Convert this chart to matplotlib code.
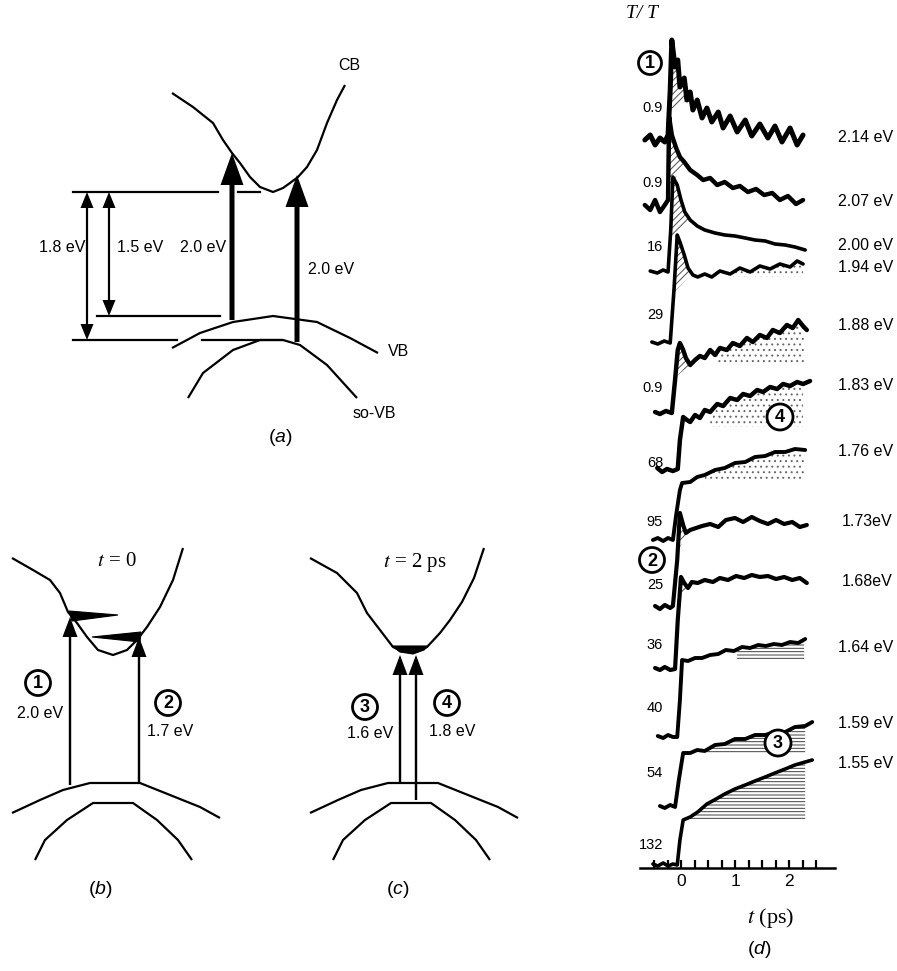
import numpy as np
import matplotlib
matplotlib.use("Agg")
import matplotlib.pyplot as plt
from matplotlib.patches import Circle, FancyArrow, Polygon

plt.rcParams['font.family'] = ['Liberation Sans', 'DejaVu Sans']
plt.rcParams['mathtext.fontset'] = 'custom'
plt.rcParams['mathtext.it'] = 'Liberation Sans:italic'
plt.rcParams['mathtext.rm'] = 'Liberation Sans'
plt.rcParams['hatch.linewidth'] = 0.7

W, H = 897, 971

# ---------------- panel (d): pump-probe traces ----------------
# t in ps, signal in a.u. above each trace's own baseline
energies = ['2.14 eV', '2.07 eV', '2.00 eV', '1.94 eV', '1.88 eV', '1.83 eV',
            '1.76 eV', '1.73eV', '1.68eV', '1.64 eV', '1.59 eV', '1.55 eV']
scales = ['0.9', '0.9', '16', '29', '0.9', '68', '95', '25', '36', '40', '54', '132']
offsets = [72.8, 66.1, 59.6, 52.5, 45.5, 39.8, 32.8, 26.1, 19.9, 13.1, 6.1, 0.3]

t1 = [-0.67, -0.57, -0.48, -0.39, -0.30, -0.24, -0.20, -0.17, -0.11, -0.06, -0.02, 0.06, 0.11,
      0.17, 0.22, 0.30, 0.39, 0.48, 0.57, 0.69, 0.78, 0.91, 1.04, 1.19, 1.31, 1.46, 1.61, 1.74,
      1.87, 2.02, 2.15, 2.26]
s1 = [0, 0.5, -0.5, 0.2, -0.2, 0.5, 5.0, 10.0, 7.3, 8.0, 5.3, 6.2, 4.0, 4.8, 3.0, 4.0, 2.2, 3.2,
      1.8, 2.8, 1.2, 2.4, 0.8, 2.0, 0.4, 1.6, 0.2, 1.4, -0.2, 1.2, -0.5, 0.5]

t2 = [-0.67, -0.57, -0.48, -0.39, -0.30, -0.24, -0.22, -0.17, -0.09, -0.02, 0.06, 0.17, 0.30,
      0.41, 0.54, 0.67, 0.81, 0.96, 1.09, 1.24, 1.39, 1.54, 1.69, 1.83, 1.98, 2.13, 2.26]
s2 = [0.2, -0.3, 0.7, -0.5, 0.2, 0.7, 9.0, 7.2, 5.9, 5.0, 4.5, 3.7, 3.2, 2.7, 2.9, 2.2, 2.5, 1.9,
      2.1, 1.5, 1.8, 1.2, 1.4, 0.7, 1.1, 0.3, 0.7]

t3 = [-0.57, -0.44, -0.33, -0.24, -0.19, -0.15, -0.07, 0.0, 0.07, 0.17, 0.30, 0.44, 0.63, 0.81,
      1.0, 1.19, 1.37, 1.56, 1.74, 1.93, 2.11, 2.30]
s3 = [0.1, -0.1, 0.2, 0, 4.2, 9.5, 8.7, 7.2, 6.0, 5.2, 4.6, 4.2, 3.9, 3.7, 3.6, 3.4, 3.2, 3.1,
      2.8, 2.7, 2.5, 2.2]

t4 = [-0.54, -0.43, -0.31, -0.20, -0.13, -0.07, -0.02, 0.06, 0.13, 0.22, 0.31, 0.44, 0.57, 0.72,
      0.91, 1.09, 1.28, 1.46, 1.65, 1.83, 2.02, 2.15, 2.26]
s4 = [0.1, -0.1, 0.2, 0, 5.3, 10.8, 10.1, 8.8, 7.5, 6.8, 6.6, 6.9, 6.6, 7.2, 6.9, 7.5, 7.1, 7.7,
      7.4, 7.9, 7.6, 8.2, 7.9]

t5 = [-0.48, -0.39, -0.28, -0.17, -0.11, -0.06, -0.02, 0.04, 0.09, 0.17, 0.26, 0.35, 0.44, 0.54,
      0.63, 0.72, 0.85, 0.96, 1.09, 1.22, 1.33, 1.46, 1.59, 1.70, 1.83, 1.96, 2.07, 2.17, 2.26, 2.33]
s5 = [0.1, -0.1, 0.2, 0, 3.3, 6.3, 7.0, 6.3, 5.5, 4.8, 5.3, 5.7, 5.5, 6.3, 5.8, 6.5, 6.3, 7.0,
      6.7, 7.5, 7.1, 7.8, 7.5, 8.3, 8.0, 8.8, 8.5, 9.3, 8.7, 8.3]

t6 = [-0.44, -0.35, -0.26, -0.15, -0.06, -0.02, 0.04, 0.11, 0.17, 0.26, 0.35, 0.44, 0.54, 0.67,
      0.78, 0.91, 1.04, 1.15, 1.28, 1.41, 1.52, 1.65, 1.78, 1.89, 2.02, 2.15, 2.26, 2.39]
s6 = [0.2, -0.2, 0.1, -0.1, 0.1, 3.0, 5.3, 5.0, 4.8, 5.5, 5.2, 6.0, 5.8, 6.6, 6.4, 7.2, 7.0, 7.6,
      7.4, 8.0, 7.8, 8.3, 8.1, 8.6, 8.4, 8.8, 8.6, 8.9]

t7 = [-0.52, -0.43, -0.33, -0.24, -0.15, -0.09, -0.02, 0.02, 0.17, 0.30, 0.44, 0.63, 0.81, 1.0,
      1.19, 1.37, 1.56, 1.74, 1.93, 2.11, 2.30]
s7 = [0, 0.2, -0.1, 0.2, 0, 2.5, 5.0, 5.7, 5.8, 6.3, 6.5, 7.0, 7.2, 7.7, 7.8, 8.3, 8.4, 8.8, 8.8,
      9.1, 9.0]

t8 = [-0.48, -0.39, -0.30, -0.20, -0.15, -0.07, -0.02, 0.04, 0.09, 0.17, 0.28, 0.39, 0.54, 0.69,
      0.83, 1.0, 1.15, 1.31, 1.46, 1.61, 1.76, 1.91, 2.06, 2.20, 2.33]
s8 = [0.1, -0.2, 0.2, -0.1, 0.1, 4.7, 9.4, 8.2, 7.4, 7.7, 7.9, 8.1, 8.3, 8.0, 8.7, 8.9, 8.5, 9.0,
      8.6, 8.3, 8.7, 8.3, 8.5, 8.0, 8.2]

t9 = [-0.48, -0.39, -0.30, -0.20, -0.11, -0.06, 0.0, 0.06, 0.13, 0.20, 0.31, 0.44, 0.59, 0.72,
      0.87, 1.02, 1.17, 1.31, 1.46, 1.61, 1.76, 1.91, 2.06, 2.20, 2.33]
s9 = [0.1, -0.1, 0.2, -0.1, 0, 4.9, 9.2, 8.6, 8.1, 8.7, 8.6, 8.9, 8.7, 9.1, 8.9, 9.3, 9.1, 9.4,
      9.2, 9.3, 9.0, 9.2, 8.9, 9.1, 8.6]

t10 = [-0.43, -0.33, -0.24, -0.15, -0.07, -0.02, 0.02, 0.13, 0.26, 0.39, 0.54, 0.69, 0.83, 0.98,
       1.13, 1.28, 1.43, 1.57, 1.72, 1.87, 2.02, 2.17, 2.30]
s10 = [0.1, -0.1, 0.2, 0, 0, 3.7, 7.7, 7.6, 7.9, 7.9, 8.2, 8.3, 8.7, 8.6, 9.0, 8.9, 9.2, 9.1, 9.3,
       9.2, 9.5, 9.4, 9.8]

t11 = [-0.39, -0.30, -0.20, -0.11, -0.04, 0.04, 0.17, 0.30, 0.44, 0.63, 0.81, 1.0, 1.19, 1.37,
       1.56, 1.74, 1.93, 2.11, 2.30, 2.43]
s11 = [0.1, -0.1, 0.2, 0, 2.7, 5.4, 5.4, 5.7, 5.6, 6.2, 6.3, 6.8, 6.8, 7.2, 7.2, 7.5, 7.5, 8.0,
       8.1, 8.5]

t12 = [-0.52, -0.43, -0.33, -0.24, -0.15, -0.07, -0.02, 0.04, 0.17, 0.31, 0.48, 0.65, 0.81, 1.0,
       1.19, 1.37, 1.56, 1.74, 1.93, 2.11, 2.30, 2.43]
s12 = [0.1, -0.1, 0.2, -0.1, 0.1, 0, 2.5, 4.5, 4.8, 5.3, 6.1, 6.6, 7.1, 7.6, 8.0, 8.4, 8.8, 9.2,
       9.6, 10.0, 10.3, 10.5]

times = [t1, t2, t3, t4, t5, t6, t7, t8, t9, t10, t11, t12]
signals = [s1, s2, s3, s4, s5, s6, s7, s8, s9, s10, s11, s12]
# trace thickness follows how noisy each trace looks
widths = [3.6, 3.2, 2.6, 2.6, 3.2, 3.2, 2.8, 3.0, 3.0, 2.8, 2.8, 2.6]

# hot-carrier peak (hatched): trace index -> (t start, t end)
peak_hatch = {0: (-0.22, 0.11), 1: (-0.238, 0.06), 2: (-0.20, 0.17), 3: (-0.134, 0.20),
              4: (-0.105, 0.17), 7: (-0.06, 0.17), 8: (-0.028, 0.17)}
# slow build-up (dotted / lined): trace index -> (t start, t end, level)
dot_fill = {3: (0.91, 2.26, 6.6), 4: (0.67, 2.28, 5.0), 5: (0.54, 2.26, 4.3), 6: (0.44, 2.28, 5.8)}
line_fill = {9: (1.04, 2.28, 7.7), 10: (0.48, 2.30, 5.4), 11: (0.17, 2.30, 4.5)}

# ---------------- panels (a)-(c): band sketches (drawing units = pixels) ----------------
cb_a_x = [172, 193, 203, 213, 223, 232, 240, 250, 260, 273, 283, 290, 298, 307, 317, 327, 337, 345]
cb_a_y = [93, 107, 115, 123, 140, 153, 163, 177, 187, 192, 188, 183, 177, 167, 150, 123, 100, 85]
vb_a_x = [172, 200, 233, 273, 317, 350, 378]
vb_a_y = [348, 333, 322, 316, 322, 338, 353]
so_a_x = [188, 203, 233, 260, 283, 300, 327, 357]
so_a_y = [398, 373, 350, 340, 340, 345, 365, 398]

cb_b_x = [12, 33, 50, 60, 68, 77, 87, 98, 113, 127, 137, 147, 160, 173, 183]
cb_b_y = [558, 570, 580, 593, 612, 623, 637, 650, 655, 650, 640, 627, 607, 580, 548]
cb_c_x = [310, 337, 357, 367, 380, 393, 400, 413, 427, 440, 450, 462, 474, 484]
cb_c_y = [558, 573, 593, 613, 630, 647, 650, 653, 647, 633, 620, 602, 578, 548]
vb_b_x = [12, 40, 63, 90, 140, 170, 200, 220]
vb_c_x = [310, 338, 361, 388, 438, 468, 498, 518]
vb_y = [813, 800, 790, 783, 783, 795, 807, 818]
so_b_x = [35, 45, 67, 93, 133, 157, 178, 192]
so_c_x = [333, 343, 365, 391, 431, 455, 476, 490]
so_y = [860, 840, 820, 803, 803, 820, 840, 860]

fig = plt.figure(figsize=(W / 100, H / 100), dpi=100)

# panel (d) axes: x in ps, y in a.u.
def px_t(x):
    return (x - 681) / 54.0

ax = fig.add_axes([640 / W, (H - 868) / H, 195 / W, (868 - 30) / H])
ax.set_xlim(px_t(640), px_t(835))
ax.set_ylim(0, 83.8)
for sp in ['left', 'right', 'top']:
    ax.spines[sp].set_visible(False)
ax.spines['bottom'].set_linewidth(1.8)
ax.set_yticks([])
ax.set_xticks([0, 1, 2])
ax.set_xticks(np.arange(-0.5, 2.51, 0.25), minor=True)
ax.tick_params(axis='x', which='both', direction='in', length=6, width=1.6, pad=4,
               labelsize=12.5)

for i, (t, s) in enumerate(zip(times, signals)):
    t = np.array(t)
    s = np.array(s)
    off = offsets[i]
    if i in peak_hatch:
        ta, tb = peak_hatch[i]
        tt = np.concatenate([[ta], t[(t > ta) & (t < tb)], [tb]])
        ss = np.interp(tt, t, s)
        chord = np.interp(tt, [ta, tb], [ss[0], ss[-1]])
        ax.fill_between(tt, off + chord, off + ss, facecolor='none', edgecolor='0.3',
                        hatch='/////', linewidth=0)
    for fills, hatch, col in [(dot_fill, '...', '0.4'), (line_fill, '-----', '0.25')]:
        if i in fills:
            ta, tb, lev = fills[i]
            tt = np.concatenate([[ta], t[(t > ta) & (t < tb)], [tb]])
            ss = np.interp(tt, t, s)
            ax.fill_between(tt, off + lev, off + ss, where=ss >= lev, interpolate=True,
                            facecolor='none', edgecolor=col, hatch=hatch, linewidth=0)
    ax.plot(t, off + s, color='black', lw=widths[i], solid_joinstyle='round',
            solid_capstyle='round')

# overlay in pixel units for the sketches and labels
ov = fig.add_axes([0, 0, 1, 1])
ov.set_xlim(0, W)
ov.set_ylim(H, 0)
ov.axis('off')

lk = dict(color='black', lw=1.6, solid_capstyle='butt')
ov.plot(cb_a_x, cb_a_y, **lk)
ov.plot(vb_a_x, vb_a_y, **lk)
ov.plot(so_a_x, so_a_y, **lk)
for xs, y in [((73, 218), 192), ((238, 260), 192), ((97, 220), 316), ((73, 177), 340),
              ((202, 282), 340)]:
    ov.plot(xs, (y, y), color='black', lw=1.6)


def darrow(x, y0, y1):
    mid = (y0 + y1) / 2
    for yy in (y0, y1):
        ov.add_patch(FancyArrow(x, mid, 0, yy - mid, width=2.2, head_width=13, head_length=16,
                                length_includes_head=True, color='black', lw=0))


darrow(87, 192, 340)
darrow(109, 192, 316)
for x, yb, yt in [(232, 320, 153), (297, 342, 175)]:
    ov.add_patch(FancyArrow(x, yb, 0, yt - yb, width=5, head_width=23, head_length=32,
                            length_includes_head=True, color='black', lw=0))

ov.text(85, 248, '1.8 eV', ha='right', va='center', fontsize=11.5)
ov.text(117, 248, '1.5 eV', ha='left', va='center', fontsize=11.5)
ov.text(180, 248, '2.0 eV', ha='left', va='center', fontsize=11.5)
ov.text(308, 270, '2.0 eV', ha='left', va='center', fontsize=11.5)
ov.text(338, 65, 'CB', ha='left', va='center', fontsize=11.5)
ov.text(388, 352, 'VB', ha='left', va='center', fontsize=11.5)
ov.text(353, 413, 'so-VB', ha='left', va='center', fontsize=11.5)
ov.text(280, 437, r'($a$)', ha='center', va='center', fontsize=14)

# (b) and (c)
ov.plot(cb_b_x, cb_b_y, **lk)
ov.plot(cb_c_x, cb_c_y, **lk)
for vx, sx in [(vb_b_x, so_b_x), (vb_c_x, so_c_x)]:
    ov.plot(vx, vb_y, **lk)
    ov.plot(sx, so_y, **lk)

ov.add_patch(Polygon([(69, 611), (72, 621), (118, 615)], closed=True, color='black', lw=0.8))
ov.add_patch(Polygon([(92, 637), (141, 632), (140, 642)], closed=True, color='black', lw=0.8))
ov.add_patch(Polygon([(392, 646), (428, 646), (424, 650), (413, 654), (400, 652)], closed=True,
                     color='black', lw=0.8))

for x, yb, yt in [(70, 785, 617), (139, 783, 637), (400, 783, 655), (416, 800, 655)]:
    ov.add_patch(FancyArrow(x, yb, 0, yt - yb, width=2.4, head_width=15, head_length=20,
                            length_includes_head=True, color='black', lw=0))

serif = dict(family=['Liberation Serif', 'DejaVu Serif'], math_fontfamily='stix')
ov.text(97, 562, r'$t$ = 0', ha='left', va='center', fontsize=15, **serif)
ov.text(383, 562, r'$t$ = 2 ps', ha='left', va='center', fontsize=15, **serif)

ov.text(40, 713, '2.0 eV', ha='center', va='center', fontsize=11.5)
ov.text(170, 732, '1.7 eV', ha='center', va='center', fontsize=11.5)
ov.text(370, 733, '1.6 eV', ha='center', va='center', fontsize=11.5)
ov.text(452, 732, '1.8 eV', ha='center', va='center', fontsize=11.5)
ov.text(100, 890, r'($b$)', ha='center', va='center', fontsize=14)
ov.text(398, 890, r'($c$)', ha='center', va='center', fontsize=14)

# circled markers
for num, cx, cy, r in [('1', 38, 683, 12.5), ('2', 168, 703, 12.5), ('3', 365, 707, 12.5),
                       ('4', 447, 703, 12.5), ('1', 650, 63, 11.5), ('2', 652, 560, 12.5),
                       ('4', 780, 417, 13), ('3', 778, 743, 13)]:
    ov.add_patch(Circle((cx, cy), r, facecolor='white', edgecolor='black', lw=2, zorder=5))
    ov.text(cx, cy + 1, num, ha='center', va='center', fontsize=13, fontweight='bold', zorder=6)

# panel (d) texts
ov.text(658, 14, 'T/ T', ha='right', va='center', fontsize=14, style='italic',
        family=['Liberation Serif', 'DejaVu Serif'])
scale_y = [108, 183, 247, 315, 388, 463, 522, 585, 645, 708, 773, 845]
energy_y = [138, 202, 245, 267, 325, 385, 452, 522, 582, 648, 723, 763]
for lab, y in zip(scales, scale_y):
    ov.text(663, y, lab, ha='right', va='center', fontsize=10.5)
for lab, y in zip(energies, energy_y):
    x0 = 842 if ' ' not in lab else 838
    ov.text(x0, y, lab, ha='left', va='center', fontsize=11.5)
ov.text(771, 918, r'$t$ (ps)', ha='center', va='center', fontsize=16, **serif)
ov.text(759, 950, r'($d$)', ha='center', va='center', fontsize=14)

fig.savefig('out.png', dpi=100)
